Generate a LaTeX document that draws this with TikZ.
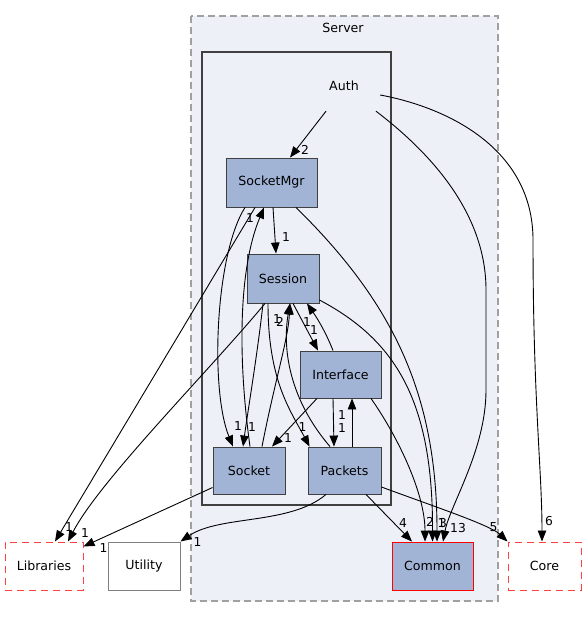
\documentclass[tikz,border=0pt]{standalone}
\usepackage{fontspec}
\setmainfont{DejaVu Sans}
\usepackage{xcolor}
\usepackage{tikz}
\usetikzlibrary{arrows.meta,calc}
\definecolor{DirFill}{RGB}{162,180,214}
\definecolor{DirLine}{RGB}{64,64,64}
\definecolor{SrvFill}{RGB}{237,240,247}
\definecolor{SrvLine}{RGB}{160,160,160}
\definecolor{ExtRed}{RGB}{255,64,64}
\tikzset{
	dirbox/.style={draw=DirLine, fill=DirFill, line width=0.9pt, inner sep=0pt},
	extbox/.style={draw=ExtRed, dash pattern=on 7pt off 5pt, line width=1pt, inner sep=0pt},
	plainbox/.style={draw=gray, line width=1pt, inner sep=0pt},
	dep/.style={-{Triangle[length=11pt,width=8.5pt]}, line width=0.9pt},
	lbl/.style={inner sep=0pt, font=\fontsize{12.3}{14}\selectfont},
	every node/.append style={font=\fontsize{12.6}{15}\selectfont},
}

\begin{document}
\begin{tikzpicture}[x=1pt, y=-1pt]
\useasboundingbox (0,0) rectangle (586,617);

% clusters
\draw[fill=SrvFill, draw=SrvLine, line width=1.2pt, dash pattern=on 7pt off 4pt] (191,16) rectangle (498,601);
\node (server) at (343,28) {Server};
\draw[draw=DirLine, line width=2.4pt] (202,52) rectangle (391,505);

% directories
\node[minimum width=72pt, minimum height=50pt] (auth) at (344,86) {Auth};
\node[dirbox, minimum width=91pt, minimum height=49pt] (sockmgr) at (271.5,182.5) {SocketMgr};
\node[dirbox, minimum width=72pt, minimum height=49pt] (session) at (283,278.5) {Session};
\node[dirbox, minimum width=81pt, minimum height=47pt] (iface) at (340.5,374.5) {Interface};
\node[dirbox, minimum width=72pt, minimum height=47pt] (socket) at (249,470.5) {Socket};
\node[dirbox, minimum width=73pt, minimum height=47pt] (packets) at (344.5,470.5) {Packets};
\node[extbox, minimum width=78pt, minimum height=48pt] (libs) at (44,566) {Libraries};
\node[plainbox, minimum width=72pt, minimum height=48pt] (utility) at (144,566) {Utility};
\node[dirbox, draw=red, minimum width=81pt, minimum height=48pt] (common) at (432.5,566) {Common};
\node[extbox, minimum width=73pt, minimum height=48pt] (core) at (544.5,566) {Core};

% Auth
\draw[dep] ([xshift=-18pt]auth.south) -- ([xshift=18.5pt]sockmgr.north) node[lbl, at end, xshift=15pt, yshift=8pt] {2};
\draw[dep] ([xshift=32pt]auth.south) .. controls (440,160) and (486,220) .. (486,290) -- (486,390) .. controls (486,450) and (450,505) .. ([xshift=10.5pt]common.north) node[lbl, at end, xshift=15pt, yshift=14pt] {13};
\draw[dep] ([yshift=-9pt]auth.east) .. controls (450,108) and (533,150) .. (533,240) .. controls (533,400) and (542,470) .. ([xshift=-2.5pt]core.north) node[lbl, at end, xshift=7pt, yshift=20pt] {6};

% SocketMgr
\draw[dep] ([xshift=1.5pt]sockmgr.south) -- ([xshift=-7pt]session.north) node[lbl, at end, xshift=10pt, yshift=17pt] {1};
\draw[dep] ([xshift=-26.5pt]sockmgr.south) .. controls (215,255) and (210,390) .. ([xshift=-16pt]socket.north) node[lbl, at end, xshift=5pt, yshift=21pt] {1};
\draw[dep] ([xshift=-16.5pt]sockmgr.south) -- ([xshift=11pt]libs.north) node[lbl, at end, xshift=14pt, yshift=14pt] {1};
\draw[dep] ([xshift=24.5pt]sockmgr.south) .. controls (390,300) and (437,390) .. ([xshift=4.5pt]common.north) node[lbl, at end, xshift=6pt, yshift=19pt] {3};

% Session
\draw[dep] ([xshift=-20pt]session.south) .. controls (258,350) and (248,410) .. ([xshift=-6pt]socket.north) node[lbl, at end, xshift=9pt, yshift=20pt] {1};
\draw[dep] ([xshift=-18pt]session.south) .. controls (210,370) and (100,480) .. ([xshift=24pt]libs.north) node[lbl, at end, xshift=17pt, yshift=8pt] {1};
\draw[dep] ([xshift=-15pt]session.south) .. controls (268,380) and (290,410) .. ([xshift=2pt]packets.north west) node[lbl, at end, xshift=-7pt, yshift=20pt] {1};
\draw[dep] ([xshift=10pt]session.south) -- ([xshift=-22.5pt]iface.north) node[lbl, at end, xshift=-4pt, yshift=21pt] {1};
\draw[dep] ([yshift=-21.5pt]session.east) .. controls (395,340) and (433,400) .. (common.north) node[lbl, at end, xshift=9pt, yshift=19pt] {1};

% Socket
\draw[dep] ([xshift=1pt]socket.north) .. controls (238,360) and (238,270) .. ([xshift=-7.5pt]sockmgr.south) node[lbl, at end, xshift=-14pt, yshift=-11pt] {1};
\draw[dep] ([xshift=13pt]socket.north) .. controls (275,380) and (288,340) .. ([xshift=7pt]session.south) node[lbl, at end, xshift=-10pt, yshift=-18pt] {2};
\draw[dep] ([yshift=-17pt]socket.west) -- ([yshift=-5pt]libs.north east) node[lbl, at end, xshift=20pt, yshift=-2pt] {1};

% Interface
\draw[dep] ([xshift=-7.5pt]iface.north) .. controls (325,330) and (315,315) .. ([xshift=24pt]session.south) node[lbl, at end, xshift=0pt, yshift=-19pt] {1};
\draw[dep] ([xshift=-23.5pt]iface.south) -- ([xshift=23pt]socket.north) node[lbl, at end, xshift=16pt, yshift=9pt] {1};
\draw[dep] ([xshift=-7.5pt]iface.south) -- ([xshift=-10.5pt]packets.north) node[lbl, at end, xshift=8pt, yshift=19pt] {1};
\draw[dep] ([xshift=30.5pt]iface.south) .. controls (400,440) and (425,495) .. ([xshift=-7.5pt]common.north) node[lbl, at end, xshift=5pt, yshift=20pt] {2};

% Packets
\draw[dep] ([xshift=-14.5pt]packets.north) .. controls (290,400) and (282,350) .. ([xshift=7pt]session.south) node[lbl, at end, xshift=-13pt, yshift=-16pt] {1};
\draw[dep] ([xshift=7.5pt]packets.north) -- ([xshift=11.5pt]iface.south) node[lbl, at end, xshift=-10pt, yshift=-17pt] {1};
\draw[dep] ([xshift=21.5pt]packets.south) -- ([xshift=-20.5pt]common.north) node[lbl, at end, xshift=-9pt, yshift=19pt] {4};
\draw[dep] ([yshift=-16.5pt]packets.east) .. controls (430,505) and (490,525) .. (core.north west) node[lbl, at end, xshift=-14pt, yshift=14pt] {5};
\draw[dep] ([xshift=-18.5pt]packets.south) .. controls (290,525) and (220,515) .. (utility.north east) node[lbl, at end, xshift=17pt, yshift=-1pt] {1};
\end{tikzpicture}
\end{document}
